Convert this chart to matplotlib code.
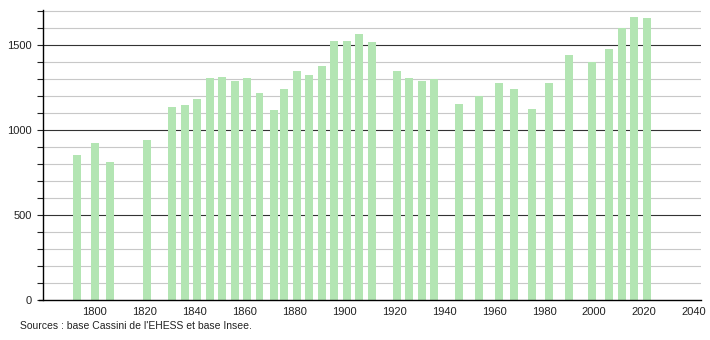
import matplotlib.pyplot as plt
from matplotlib.ticker import MultipleLocator

plt.rcParams["font.family"] = ["Liberation Sans", "DejaVu Sans"]

years = [1793, 1800, 1806, 1821, 1831, 1836, 1841, 1846, 1851, 1856, 1861,
         1866, 1872, 1876, 1881, 1886, 1891, 1896, 1901, 1906, 1911, 1921,
         1926, 1931, 1936, 1946, 1954, 1962, 1968, 1975, 1982, 1990, 1999,
         2006, 2011, 2016, 2021]
population = [853, 921, 810, 941, 1133, 1147, 1182, 1306, 1310, 1288, 1306,
              1216, 1118, 1241, 1347, 1324, 1376, 1524, 1524, 1565, 1514, 1345,
              1306, 1288, 1298, 1153, 1200, 1276, 1241, 1124, 1276, 1441, 1398,
              1476, 1600, 1665, 1657]
x_ticks = [1800, 1820, 1840, 1860, 1880, 1900, 1920, 1940, 1960, 1980, 2000,
           2020, 2040]
y_ticks = [0, 500, 1000, 1500]
source = "Sources : base Cassini de l'EHESS et base Insee."

fig = plt.figure(figsize=(7.1, 3.4), dpi=100)
ax = fig.add_axes([43 / 710, 40 / 340, 658 / 710, 290 / 340])

# grid: light every 100, dark every 500
for v in range(100, 1800, 100):
    if v % 500 == 0:
        ax.axhline(v, color="#333333", lw=0.8, zorder=1)
    else:
        ax.axhline(v, color="#c8c8c8", lw=0.8, zorder=1)

ax.bar(years, population, width=3.2, color="#b3e5b3", zorder=2)

ax.set_xlim(1779.3, 2042.8)
ax.set_ylim(0, 1705)
ax.set_xticks(x_ticks)
ax.set_yticks(y_ticks)
ax.yaxis.set_minor_locator(MultipleLocator(100))
ax.tick_params(axis="x", length=0, labelsize=8, pad=5, colors="#222222")
ax.tick_params(axis="y", which="both", length=4, width=0.8, labelsize=8,
               pad=4, colors="#222222")

for side in ["top", "right"]:
    ax.spines[side].set_visible(False)
ax.spines["left"].set_linewidth(1.0)
ax.spines["bottom"].set_linewidth(1.0)
ax.spines["bottom"].set_bounds(1777.5, 2042.8)
ax.spines["left"].set_zorder(3)
ax.spines["bottom"].set_zorder(3)

fig.text(20 / 710, 1 - 329 / 340, source, fontsize=7.5, color="#222222",
         va="baseline")

fig.savefig("out.png", dpi=100)
